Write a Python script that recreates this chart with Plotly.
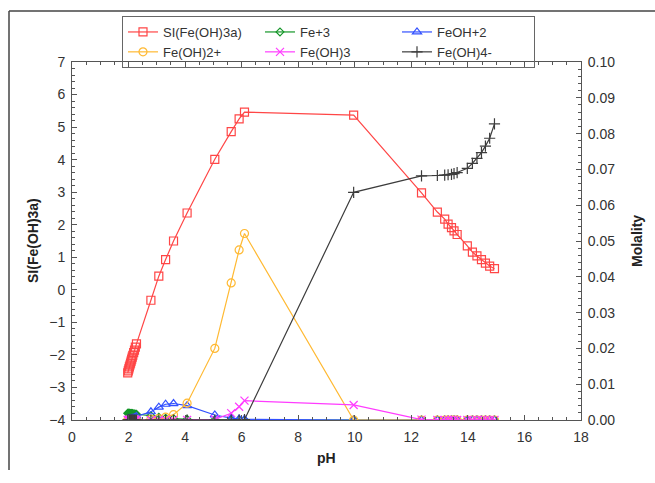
import plotly.graph_objects as go
from plotly.subplots import make_subplots

# ---- data ----
pH = [1.97, 1.99, 2.01, 2.03, 2.05, 2.07, 2.09, 2.11, 2.13, 2.15, 2.18, 2.21, 2.24,
      2.28, 2.79, 3.07, 3.31, 3.59, 4.07, 5.05, 5.63, 5.91, 6.10, 9.96,
      12.36, 12.92, 13.18, 13.30, 13.42, 13.51, 13.62, 13.98, 14.16, 14.32,
      14.48, 14.62, 14.77, 14.94]

si_feoh3a = [-2.55, -2.49, -2.43, -2.37, -2.31, -2.25, -2.19, -2.13, -2.07, -2.01, -1.93, -1.85, -1.76,
             -1.66, -0.32, 0.42, 0.93, 1.50, 2.36, 4.01, 4.86, 5.25, 5.46, 5.37,
             2.98, 2.39, 2.17, 2.02, 1.91, 1.81, 1.70, 1.35, 1.16, 1.04,
             0.93, 0.82, 0.73, 0.65]

fe3 = [0.0019, 0.0019, 0.0019, 0.0019, 0.0018, 0.0018, 0.0018, 0.0018, 0.0018, 0.0017, 0.0017, 0.0017, 0.0016,
       0.0016, 0.0012, 0.0008, 0.0005, 0.0004, 0.0002, 0.0001, 0.0, 0.0, 0.0, 0.0,
       0.0, 0.0, 0.0, 0.0, 0.0, 0.0, 0.0, 0.0, 0.0, 0.0,
       0.0, 0.0, 0.0, 0.0]

feoh2 = [0.0002, 0.0002, 0.0002, 0.0003, 0.0003, 0.0003, 0.0003, 0.0004, 0.0004, 0.0004, 0.0005, 0.0006, 0.0007,
         0.0010, 0.0023, 0.0036, 0.0044, 0.0046, 0.0040, 0.0014, 0.0005, 0.0003, 0.0002, 0.0,
         0.0, 0.0, 0.0, 0.0, 0.0, 0.0, 0.0, 0.0, 0.0, 0.0,
         0.0, 0.0, 0.0, 0.0]

feoh2p = [0.0, 0.0, 0.0, 0.0, 0.0, 0.0, 0.0, 0.0, 0.0, 0.0, 0.0, 0.0, 0.0,
          0.0001, 0.0002, 0.0004, 0.0008, 0.0015, 0.0047, 0.0200, 0.0383, 0.0475, 0.0521, 0.0,
          0.0, 0.0, 0.0, 0.0, 0.0, 0.0, 0.0, 0.0, 0.0, 0.0,
          0.0, 0.0, 0.0, 0.0]

feoh3 = [0.0, 0.0, 0.0, 0.0, 0.0, 0.0, 0.0, 0.0, 0.0, 0.0, 0.0, 0.0, 0.0,
         0.0, 0.0, 0.0, 0.0, 0.0, 0.0, 0.0002, 0.0019, 0.0037, 0.0054, 0.0042,
         0.0001, 0.0, 0.0, 0.0, 0.0, 0.0, 0.0, 0.0, 0.0, 0.0,
         0.0, 0.0, 0.0, 0.0]

feoh4 = [0.0, 0.0, 0.0, 0.0, 0.0, 0.0, 0.0, 0.0, 0.0, 0.0, 0.0, 0.0, 0.0,
         0.0, 0.0, 0.0, 0.0, 0.0, 0.0, 0.0, 0.0, 0.0, 0.0001, 0.0636,
         0.0682, 0.0683, 0.0684, 0.0685, 0.0686, 0.0688, 0.0691, 0.0703, 0.0717, 0.0731,
         0.0747, 0.0765, 0.0787, 0.0827]

FONT = "Liberation Sans, Arial, sans-serif"

fig = make_subplots(specs=[[{"secondary_y": True}]])

def add(name, y, color, symbol, size, secondary, mlw=1.2):
    fig.add_trace(go.Scatter(
        x=pH, y=y, name=name, mode="lines+markers",
        line=dict(color=color, width=1.2),
        marker=dict(symbol=symbol, size=size, color=color,
                    line=dict(color=color, width=mlw)),
    ), secondary_y=secondary)

add("SI(Fe(OH)3a)", si_feoh3a, "rgb(255,70,70)", "square-open", 8, False)
add("Fe+3", fe3, "rgb(20,150,40)", "diamond-open", 6, True)
add("FeOH+2", feoh2, "rgb(50,80,255)", "triangle-up-open", 8, True)
add("Fe(OH)2+", feoh2p, "rgb(255,185,50)", "circle-open", 8, True)
add("Fe(OH)3", feoh3, "rgb(255,60,255)", "x-thin-open", 8, True)
add("Fe(OH)4-", feoh4, "rgb(60,60,60)", "cross-thin-open", 8, True)

axis_common = dict(
    showline=True, linecolor="#555", linewidth=1, ticks="inside",
    ticklen=5, tickcolor="#555", showgrid=False, zeroline=False,
    tickfont=dict(family=FONT, size=14, color="#333"),
)

fig.update_xaxes(
    range=[0, 18], dtick=2, tick0=0, mirror="ticks", domain=[0, 1],
    ticklabelstandoff=4,
    minor=dict(dtick=0.5, ticks="inside", ticklen=3, tickcolor="#555"),
    **axis_common,
)
fig.update_yaxes(
    range=[-4, 7], dtick=1, tick0=-4, ticklabelstandoff=3,
    minor=dict(dtick=0.2, ticks="inside", ticklen=3, tickcolor="#555"),
    secondary_y=False, **axis_common,
)
fig.update_yaxes(
    range=[0, 0.1], dtick=0.01, tick0=0, tickformat=".2f", ticklabelstandoff=3,
    minor=dict(dtick=0.002, ticks="inside", ticklen=3, tickcolor="#555"),
    secondary_y=True, **axis_common,
)

# plot area in pixels: x 72..581, y 62..420
def px_x(p):
    return (p - 72) / 509.0

def px_y(p):
    return (420 - p) / 358.0

title_font = dict(family=FONT, size=14, color="#222")

fig.update_layout(
    width=655, height=483,
    margin=dict(l=72, r=74, t=62, b=63),
    paper_bgcolor="white", plot_bgcolor="white",
    font=dict(family=FONT, size=14, color="#333"),
    legend=dict(
        orientation="h", x=px_x(122), y=px_y(16), xanchor="left", yanchor="top",
        entrywidth=92, entrywidthmode="pixels", itemwidth=30,
        bordercolor="#666", borderwidth=1, bgcolor="rgba(255,255,255,0)",
        font=dict(family=FONT, size=13, color="#333"), tracegroupgap=0,
    ),
    annotations=[
        dict(text="<b>pH</b>", xref="paper", yref="paper", x=px_x(326), y=px_y(458),
             showarrow=False, font=title_font, xanchor="center", yanchor="middle"),
        dict(text="<b>SI(Fe(OH)3a)</b>", xref="paper", yref="paper", x=px_x(33), y=px_y(241),
             showarrow=False, font=title_font, textangle=-90, xanchor="center", yanchor="middle"),
        dict(text="<b>Molality</b>", xref="paper", yref="paper", x=px_x(637), y=px_y(241),
             showarrow=False, font=title_font, textangle=-90, xanchor="center", yanchor="middle"),
    ],
    shapes=[
        dict(type="line", xref="paper", yref="paper",
             x0=px_x(9), x1=px_x(655), y0=px_y(11), y1=px_y(11),
             line=dict(color="#444", width=1.5)),
        dict(type="line", xref="paper", yref="paper",
             x0=px_x(9), x1=px_x(9), y0=px_y(11), y1=px_y(470),
             line=dict(color="#444", width=1.5)),
    ],
)

fig.write_html("out.html")
